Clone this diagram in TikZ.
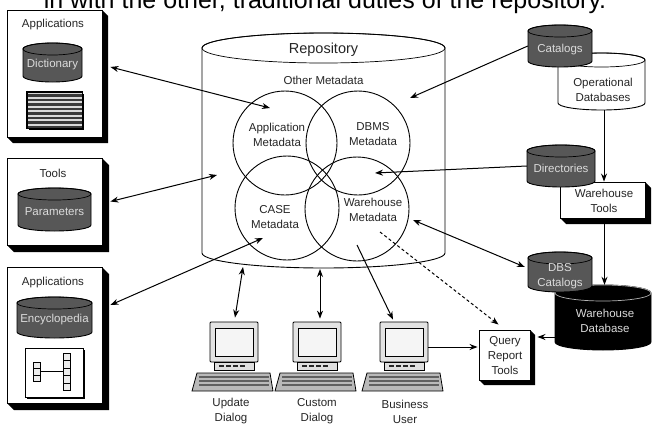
\documentclass[tikz,border=0pt]{standalone}
\usepackage{fontspec}
\setmainfont{Liberation Sans}
\usetikzlibrary{arrows.meta,calc}

\definecolor{drumfill}{gray}{0.34}
\definecolor{drumtext}{gray}{0.86}
\definecolor{ink}{gray}{0.15}

% cylinder: name, left x, top y, right x, bottom y, end radius, fill, rim colour
\newcommand\drum[8]{%
  \path[fill=#7, draw=black, line width=0.9pt]
    (#2,{#3+#6}) -- (#2,{#5-#6})
    arc[start angle=180, end angle=0, x radius={(#4-#2)/2}, y radius=#6]
    -- (#4,{#3+#6})
    arc[start angle=0, end angle=-180, x radius={(#4-#2)/2}, y radius=#6] -- cycle;
  \draw[#8, line width=0.7pt] ({(#2+#4)/2},{#3+#6}) ellipse[x radius={(#4-#2)/2}, y radius=#6];
  \node[inner sep=0, minimum width={(#4-#2)*1pt}, minimum height={(#5-#3)*1pt}] (#1) at ({(#2+#4)/2},{(#3+#5)/2}) {};
}

% box with an extruded black side: name, x0, y0, x1, y1, depth
\newcommand\slab[6]{%
  \fill[black] (#4,#3) -- ({#4+#6},{#3+#6}) -- ({#4+#6},{#5+#6}) -- ({#2+#6},{#5+#6}) -- (#2,#5) -- cycle;
  \node[draw, fill=white, line width=0.9pt, inner sep=0, minimum width={(#4-#2)*1pt}, minimum height={(#5-#3)*1pt}] (#1) at ({(#2+#4)/2},{(#3+#5)/2}) {};
}

% workstation: name, centre x
\newcommand\workstation[2]{%
  \node[draw, fill=gray!22, line width=0.8pt, rounded corners=1pt, minimum width=48pt, minimum height=40pt, inner sep=0] (#1) at (#2,342) {};
  \draw[fill=gray!8, line width=0.9pt] ({#2-19},328) rectangle ({#2+19},356);
  \draw[fill=gray!25, line width=0.6pt] ({#2-20},362) rectangle ({#2+20},370);
  \foreach \k in {-15,-8,-1,6} \draw[gray!30!black, line width=1.3pt] ({#2+\k},366) -- ({#2+\k+5},366);
  \draw[fill=gray!55, line width=0.8pt] ({#2-37},373) -- ({#2+36},373) -- ({#2+39},391) -- ({#2-42},391) -- cycle;
  \foreach \r in {377,381,385} \draw[gray!75!black, line width=1.6pt] ({#2-35},\r) -- ({#2+35},\r);
}

\begin{document}
\begin{tikzpicture}[x=1pt, y=-1pt,
  lbl/.style={font=\fontsize{11.5}{15}\selectfont, align=center, inner sep=0, text=ink},
  dlbl/.style={lbl, text=drumtext},
  conn/.style={line width=1pt, -{Stealth[length=8pt,width=6pt]}},
  biconn/.style={line width=1pt, {Stealth[length=8pt,width=6pt]}-{Stealth[length=8pt,width=6pt]}},
  dashconn/.style={conn, dash pattern=on 3pt off 2.5pt},
  ring/.style={draw, line width=0.9pt, circle, inner sep=0, minimum size=104pt}]

\useasboundingbox (0,0) rectangle (652,428);
\clip (0,0) rectangle (652,428);
\fill[white] (0,0) rectangle (652,428);

% running text of the page
\node[font=\fontsize{25}{30}\selectfont, anchor=base, inner sep=0] (caption) at (325,9) {in with the other, traditional duties of the repository.};

% ---------- left column: applications and tools ----------
\slab{appA}{7}{10}{102}{137}{6}
\node[lbl] (appAT) at (53,25) {Applications};
\drum{dict}{23}{43}{82}{82}{6}{drumfill}{black}
\node[dlbl] (dictT) at (52.5,65) {Dictionary};
\fill[black] (29,94) rectangle (84,130);
\node[draw, fill=gray!30, line width=0.7pt, inner sep=0, minimum width=55pt, minimum height=36pt] (stripes) at (54.5,110) {};
\foreach \yy in {95.5,100,...,127} \draw[gray!45!black, line width=2.2pt] (27.5,\yy) -- (81.5,\yy);
\draw[line width=0.7pt] (stripes.south west) rectangle (stripes.north east);

\slab{tools}{7}{158}{102}{245}{7}
\node[lbl] (toolsT) at (53,173) {Tools};
\drum{param}{18}{188}{91}{231}{6}{drumfill}{black}
\node[dlbl] (paramT) at (54.5,212) {Parameters};

\slab{appB}{7}{267}{102}{403}{7}
\node[lbl] (appBT) at (53,283) {Applications};
\drum{ency}{17}{297}{92}{338}{6}{drumfill}{black}
\node[dlbl] (encyT) at (54.5,320) {Encyclopedia};
\fill[black] (27,350) rectangle (85,399);
\node[draw, fill=white, line width=0.8pt, inner sep=0, minimum width=58pt, minimum height=49pt] (chart) at (54,372.5) {};
\foreach \yy in {362,368.5,375} \draw[fill=gray!15, line width=0.6pt] (33.5,\yy) rectangle (40,{\yy+6.5});
\foreach \yy in {353,360.5,368,375.5,383} \draw[fill=gray!15, line width=0.6pt] (63.5,\yy) rectangle (70.5,{\yy+7.5});
\draw[line width=0.6pt] (40,371.5) -- (63.5,371.5);

% ---------- repository ----------
\drum{repo}{202}{33}{445}{268}{15}{white}{black}
\node[font=\fontsize{14.5}{17}\selectfont, text=ink, inner sep=0] (repoT) at (323.5,50) {Repository};
\node[lbl] (other) at (323.5,80) {Other Metadata};
\node[ring] (appM) at (285,143) {};
\node[ring] (dbmsM) at (358,143) {};
\node[ring] (caseM) at (287,208) {};
\node[ring] (whM) at (357,209) {};
\node[lbl] (appMT) at (277,134.5) {Application\\Metadata};
\node[lbl] (dbmsMT) at (373,134.5) {DBMS\\Metadata};
\node[lbl] (caseMT) at (275,217.5) {CASE\\Metadata};
\node[lbl] (whMT) at (373,209.5) {Warehouse\\Metadata};

% ---------- right column: sources and warehouse ----------
\drum{opdb}{558}{53}{645}{110}{7}{white}{black}
\node[lbl] (opdbT) at (603,90) {Operational\\Databases};
\drum{cat}{528}{25}{592}{67}{6}{drumfill}{black}
\node[dlbl] (catT) at (560,50) {Catalogs};

\slab{wtools}{560}{182}{645}{218}{6}
\node[lbl] (wtoolsT) at (604,200.5) {Warehouse\\Tools};
\drum{dir}{527}{145}{595}{187}{6}{drumfill}{black}
\node[dlbl] (dirT) at (561,168) {Directories};

\drum{wdb}{555}{285}{651}{350}{8}{black}{gray!60}
\node[dlbl] (wdbT) at (605,321) {Warehouse\\Database};
\drum{dbs}{528}{252}{592}{292}{6}{drumfill}{black}
\node[dlbl] (dbsT) at (560,276) {DBS\\Catalogs};

\slab{qrt}{479}{330}{530}{380}{5}
\node[lbl] (qrtT) at (505,355.5) {Query\\Report\\Tools};

% ---------- workstations ----------
\workstation{upd}{234}
\workstation{cus}{317}
\workstation{bus}{404}
\node[lbl] (updT) at (231,411.5) {Update\\Dialog};
\node[lbl] (cusT) at (317,411.5) {Custom\\Dialog};
\node[lbl] (busT) at (405,411.5) {Business\\User};

% ---------- connector ends inside the repository ----------
\coordinate (pA) at (270,108);
\coordinate (pT) at (217,175);
\coordinate (pE) at (263,238);
\coordinate (pC) at (410,98);
\coordinate (pD) at (375,173);
\coordinate (pW) at (413,220);
\coordinate (pQ) at (380,232);
\coordinate (pB) at (357,245);
\coordinate (pU) at (243,267);
\coordinate (pK) at (320,269);

% ---------- connectors ----------
\draw[biconn] ([xshift=8pt,yshift=6.5pt]appA.east) -- (pA);
\draw[biconn] ([xshift=8pt]tools.east) -- (pT);
\draw[biconn] ([xshift=8pt,yshift=30pt]appB.east) -- (pE);

\draw[conn] (cat.west) -- (pC);
\draw[conn] (dir.west) -- (pD);
\draw[biconn] (pW) -- ([xshift=-3pt,yshift=5pt]dbs.west);
\draw[dashconn] (pQ) -- ([xshift=-6pt,yshift=5pt]qrt.north);

\draw[conn] (opdb.south -| wtools.north) ++(1.5,0) coordinate (opdbOut) -- (opdbOut |- wtools.north);
\draw[conn] ([xshift=2pt,yshift=-6pt]wtools.south) -- ([xshift=2pt]wtools.south |- wdb.north);
\draw[conn] (wdb.west |- 0,337) -- ([xshift=7pt]qrt.east |- 0,337);

\draw[biconn] (pU) -- ([xshift=1pt,yshift=4pt]upd.north);
\draw[biconn] (pK) -- ([xshift=3pt,yshift=3pt]cus.north);
\draw[conn] (pB) -- ([xshift=-11pt,yshift=2pt]bus.north);
\draw[conn] ([yshift=-5pt]bus.east) -- ([xshift=-1pt]qrt.west |- 0,347);

\end{tikzpicture}
\end{document}
